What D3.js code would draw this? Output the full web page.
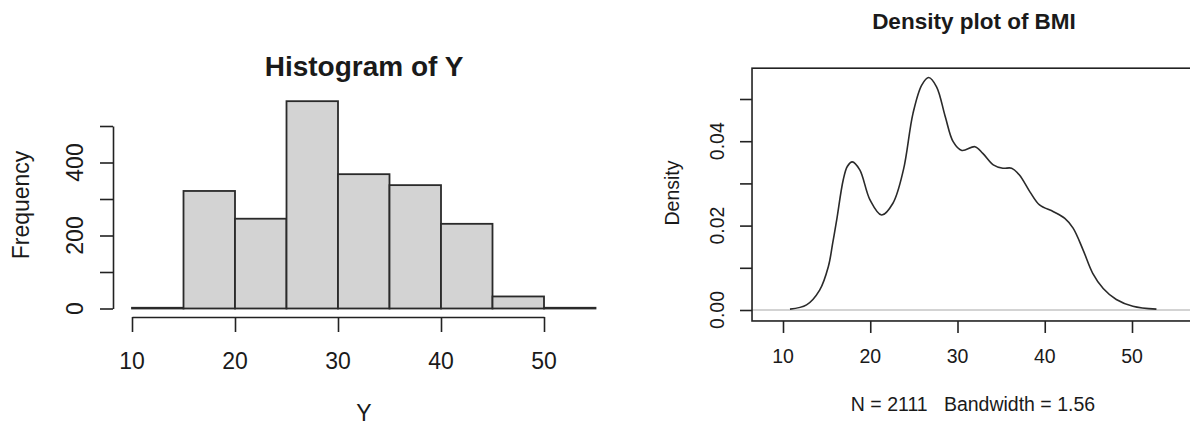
<!DOCTYPE html>
<html>
<head>
<meta charset="utf-8">
<script src="https://cdn.jsdelivr.net/npm/d3@7"></script>
<style>
  html, body { margin: 0; padding: 0; background: #fff; }
  svg { display: block; font-family: "Liberation Sans", Arial, sans-serif; }
  text { fill: #1a1a1a; }
</style>
</head>
<body>
<svg id="chart" width="1190" height="425"></svg>
<script>
// ---- Histogram of Y ----
const binEdges = [10, 15, 20, 25, 30, 35, 40, 45, 50, 55];
const binCounts = [2, 322, 246, 568, 368, 338, 232, 33, 2];
const histXTicks = [10, 20, 30, 40, 50];
const histYTicks = [0, 100, 200, 300, 400, 500];
const histYLabels = [0, 200, 400];

// ---- Density plot of BMI ----
const densityX = [10.8, 12.7, 14.2, 15.2, 15.7, 16.15, 16.9, 17.37, 17.94, 18.8, 19.97, 21.3, 22.6, 23.8, 24.9, 25.9, 26.7,
                  27.6, 28.6, 29.5, 30.5, 32.0, 32.9, 34.1, 35.2, 36.2, 37.1, 38.3, 39.4, 41.0, 42.3, 43.25,
                  44.4, 45.5, 46.7, 48.2, 50.1, 52.8];
const densityY = [0.0002, 0.0012, 0.0047, 0.0103, 0.0159, 0.0213, 0.0308, 0.0340, 0.0351, 0.0332, 0.0261, 0.0225, 0.0253, 0.0332, 0.0466, 0.0533, 0.0551,
                  0.0529, 0.0458, 0.0399, 0.0378, 0.0387, 0.0371, 0.0344, 0.0336, 0.0336, 0.0320, 0.0280, 0.0249, 0.0233, 0.0217, 0.0194,
                  0.0142, 0.0087, 0.0051, 0.0025, 0.0009, 0.0002];
const densXTicks = [10, 20, 30, 40, 50];
const densYTicks = [0, 0.01, 0.02, 0.03, 0.04, 0.05];
const densYLabels = [0, 0.02, 0.04];
const densN = 2111;
const densBandwidth = 1.56;

const svg = d3.select("#chart");
const ink = "#222";

// ================= Histogram =================
{
  const x = d3.scaleLinear().domain([10, 50]).range([132, 544]);
  const y = d3.scaleLinear().domain([0, 500]).range([308.5, 126]);
  const g = svg.append("g");

  const bins = binCounts.map((c, i) => ({ x0: binEdges[i], x1: binEdges[i + 1], count: c }));
  g.selectAll("rect.bar").data(bins).join("rect")
    .attr("class", "bar")
    .attr("x", d => x(d.x0))
    .attr("width", d => x(d.x1) - x(d.x0))
    .attr("y", d => y(d.count))
    .attr("height", d => y(0) - y(d.count))
    .attr("fill", "#d3d3d3")
    .attr("stroke", "#2a2a2a")
    .attr("stroke-width", 1.8);

  // left axis
  const yAxis = g.append("g").attr("transform", "translate(113,0)")
    .call(d3.axisLeft(y).tickValues(histYTicks).tickSize(13).tickSizeOuter(0).tickFormat(""));
  yAxis.selectAll("path, line").attr("stroke", ink).attr("stroke-width", 1.6);

  g.selectAll("text.ylab").data(histYLabels).join("text")
    .attr("class", "ylab")
    .attr("transform", d => `translate(83,${y(d)}) rotate(-90)`)
    .attr("text-anchor", "middle")
    .attr("font-size", 23)
    .text(d => d);

  // bottom axis
  const xAxis = g.append("g").attr("transform", "translate(0,317)")
    .call(d3.axisBottom(x).tickValues(histXTicks).tickSize(15).tickSizeOuter(0).tickFormat(""));
  xAxis.selectAll("path, line").attr("stroke", ink).attr("stroke-width", 1.6);

  g.selectAll("text.xlab").data(histXTicks).join("text")
    .attr("class", "xlab")
    .attr("x", d => x(d))
    .attr("y", 369)
    .attr("text-anchor", "middle")
    .attr("font-size", 23)
    .text(d => d);

  g.append("text").attr("x", 364).attr("y", 76).attr("text-anchor", "middle")
    .attr("font-size", 28).attr("font-weight", "bold").text("Histogram of Y");
  g.append("text").attr("x", 364).attr("y", 421).attr("text-anchor", "middle")
    .attr("font-size", 23).text("Y");
  g.append("text").attr("transform", "translate(29,205) rotate(-90)").attr("text-anchor", "middle")
    .attr("font-size", 23).text("Frequency");
}

// ================= Density plot =================
{
  const x = d3.scaleLinear().domain([10, 50]).range([783, 1132]);
  const y = d3.scaleLinear().domain([0, 0.05]).range([310, 99]);
  const g = svg.append("g");
  const xlim = [6.45, 57.3], ylim = [-0.0026, 0.0573];

  // zero reference line
  g.append("line")
    .attr("x1", x(xlim[0])).attr("x2", x(xlim[1]))
    .attr("y1", y(0)).attr("y2", y(0))
    .attr("stroke", "#c4c4c4").attr("stroke-width", 1.6);

  const line = d3.line().x((d, i) => x(densityX[i])).y(d => y(d)).curve(d3.curveCatmullRom.alpha(0.5));
  g.append("path").attr("d", line(densityY))
    .attr("fill", "none").attr("stroke", "#2a2a2a").attr("stroke-width", 1.6);

  // plot box
  g.append("rect")
    .attr("x", x(xlim[0])).attr("y", y(ylim[1]))
    .attr("width", x(xlim[1]) - x(xlim[0])).attr("height", y(ylim[0]) - y(ylim[1]))
    .attr("fill", "none").attr("stroke", ink).attr("stroke-width", 1.6);

  const yAxis = g.append("g").attr("transform", `translate(${x(xlim[0])},0)`)
    .call(d3.axisLeft(y).tickValues(densYTicks).tickSize(12).tickSizeOuter(0).tickFormat(""));
  yAxis.select("path").remove();
  yAxis.selectAll("line").attr("stroke", ink).attr("stroke-width", 1.6);

  g.selectAll("text.ylab").data(densYLabels).join("text")
    .attr("class", "ylab")
    .attr("transform", d => `translate(724,${y(d)}) rotate(-90)`)
    .attr("text-anchor", "middle")
    .attr("font-size", 19.5)
    .text(d => d3.format(".2f")(d));

  const xAxis = g.append("g").attr("transform", `translate(0,${y(ylim[0])})`)
    .call(d3.axisBottom(x).tickValues(densXTicks).tickSize(12).tickSizeOuter(0).tickFormat(""));
  xAxis.select("path").remove();
  xAxis.selectAll("line").attr("stroke", ink).attr("stroke-width", 1.6);

  g.selectAll("text.xlab").data(densXTicks).join("text")
    .attr("class", "xlab")
    .attr("x", d => x(d))
    .attr("y", 363)
    .attr("text-anchor", "middle")
    .attr("font-size", 19.5)
    .text(d => d);

  g.append("text").attr("x", 974).attr("y", 29).attr("text-anchor", "middle")
    .attr("font-size", 22.5).attr("font-weight", "bold").text("Density plot of BMI");
  g.append("text").attr("x", 973).attr("y", 411).attr("text-anchor", "middle")
    .attr("font-size", 19.5).attr("xml:space", "preserve").style("white-space", "pre")
    .text(`N = ${densN}   Bandwidth = ${densBandwidth}`);
  g.append("text").attr("transform", "translate(679,193) rotate(-90)").attr("text-anchor", "middle")
    .attr("font-size", 19.5).text("Density");
}
</script>
</body>
</html>
